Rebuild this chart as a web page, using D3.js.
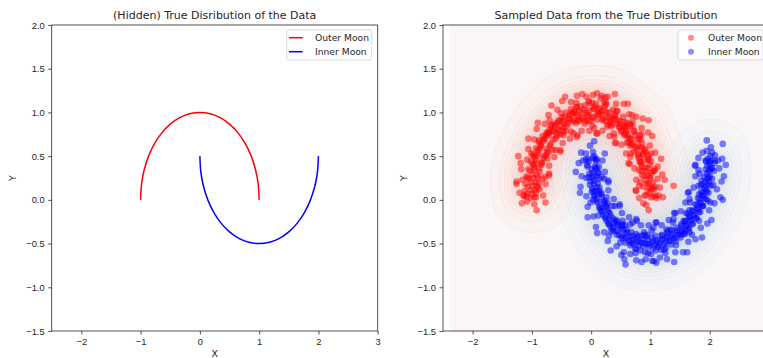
<!DOCTYPE html>
<html>
<head>
<meta charset="utf-8">
<script src="https://cdn.jsdelivr.net/npm/d3@7"></script>
<style>
  body { margin: 0; background: #fff; }
  svg { display: block; font-family: "DejaVu Sans", sans-serif; }
  .tick text { font-size: 9.4px; fill: #262626; }
  .tick line { stroke: #262626; stroke-width: 0.8; }
</style>
</head>
<body>
<svg id="moons" width="763" height="358"></svg>
<script>
// Noise-free moon outlines, one point every 10 degrees.
const outerArc = [[1.000,0.000],[0.985,0.174],[0.940,0.342],[0.866,0.500],[0.766,0.643],[0.643,0.766],[0.500,0.866],[0.342,0.940],[0.174,0.985],[0.000,1.000],[-0.174,0.985],[-0.342,0.940],[-0.500,0.866],[-0.643,0.766],[-0.766,0.643],[-0.866,0.500],[-0.940,0.342],[-0.985,0.174],[-1.000,0.000]];
const innerArc = [[0.000,0.500],[0.015,0.326],[0.060,0.158],[0.134,0.000],[0.234,-0.143],[0.357,-0.266],[0.500,-0.366],[0.658,-0.440],[0.826,-0.485],[1.000,-0.500],[1.174,-0.485],[1.342,-0.440],[1.500,-0.366],[1.643,-0.266],[1.766,-0.143],[1.866,0.000],[1.940,0.158],[1.985,0.326],[2.000,0.500]];

// Sampled points, outer moon (dense core, then the looser fringe).
const outerPoints = [
  [1.05,0.04],[0.93,-0.06],[1.02,0.12],[0.97,-0.12],[1.10,0.02],[0.99,0.08],
  [0.95,0.10],[1.08,0.15],[1.01,0.03],[0.90,0.05],[1.04,0.20],[0.98,0.14],
  [0.92,0.22],[1.06,0.12],[0.99,0.27],[0.88,0.15],[1.12,0.24],[0.97,0.18],
  [1.02,0.31],[0.89,0.27],[0.95,0.19],[1.08,0.35],[0.93,0.33],[1.00,0.25],
  [0.86,0.38],[0.99,0.40],[0.95,0.28],[1.05,0.33],[0.90,0.45],[0.96,0.36],
  [0.97,0.47],[0.84,0.41],[0.88,0.52],[1.01,0.44],[0.91,0.37],[0.80,0.48],
  [0.92,0.55],[0.79,0.51],[0.85,0.60],[0.96,0.46],[0.83,0.44],[0.88,0.52],
  [0.75,0.60],[0.86,0.64],[0.80,0.52],[0.91,0.58],[0.72,0.55],[0.84,0.69],
  [0.81,0.70],[0.70,0.64],[0.77,0.58],[0.85,0.75],[0.67,0.69],[0.79,0.62],
  [0.72,0.79],[0.63,0.71],[0.78,0.69],[0.69,0.63],[0.61,0.80],[0.74,0.74],
  [0.58,0.77],[0.70,0.84],[0.66,0.70],[0.55,0.83],[0.73,0.78],[0.62,0.74],
  [0.60,0.88],[0.51,0.80],[0.57,0.75],[0.66,0.85],[0.49,0.90],[0.58,0.82],
  [0.45,0.87],[0.54,0.95],[0.50,0.78],[0.41,0.92],[0.57,0.85],[0.47,0.83],
  [0.40,0.97],[0.46,0.90],[0.36,0.86],[0.44,1.01],[0.38,0.93],[0.48,0.84],
  [0.30,0.95],[0.37,1.03],[0.33,0.88],[0.26,1.00],[0.40,0.96],[0.34,0.91],
  [0.22,1.02],[0.29,0.94],[0.25,1.09],[0.18,0.97],[0.31,1.00],[0.24,0.90],
  [0.15,1.05],[0.20,0.93],[0.13,0.99],[0.22,1.12],[0.17,1.01],[0.10,0.92],
  [0.05,1.04],[0.12,0.97],[0.08,1.10],[0.02,0.95],[0.10,1.00],[0.06,1.07],
  [-0.03,1.02],[0.04,0.94],[0.01,1.11],[-0.06,0.97],[0.03,1.05],[-0.01,0.90],
  [-0.12,1.03],[-0.05,0.96],[-0.10,1.08],[-0.15,0.94],[-0.08,1.00],[-0.04,1.13],
  [-0.20,1.02],[-0.13,0.93],[-0.18,1.07],[-0.24,0.97],[-0.16,1.00],[-0.21,0.90],
  [-0.28,1.01],[-0.22,0.95],[-0.31,0.91],[-0.25,1.06],[-0.33,0.98],[-0.26,0.88],
  [-0.37,0.97],[-0.30,0.90],[-0.40,0.88],[-0.34,1.04],[-0.29,0.99],[-0.38,0.93],
  [-0.45,0.95],[-0.40,0.85],[-0.48,0.90],[-0.42,1.00],[-0.37,0.92],[-0.50,0.84],
  [-0.53,0.90],[-0.46,0.82],[-0.55,0.80],[-0.49,0.94],[-0.58,0.88],[-0.45,0.87],
  [-0.61,0.86],[-0.52,0.75],[-0.64,0.78],[-0.55,0.91],[-0.68,0.84],[-0.57,0.80],
  [-0.66,0.79],[-0.60,0.70],[-0.72,0.74],[-0.62,0.85],[-0.75,0.77],[-0.58,0.76],
  [-0.73,0.76],[-0.68,0.64],[-0.79,0.70],[-0.70,0.80],[-0.82,0.73],[-0.64,0.69],
  [-0.79,0.69],[-0.74,0.58],[-0.85,0.63],[-0.76,0.74],[-0.88,0.66],[-0.70,0.62],
  [-0.84,0.61],[-0.79,0.50],[-0.90,0.57],[-0.81,0.67],[-0.93,0.59],[-0.75,0.55],
  [-0.89,0.54],[-0.84,0.43],[-0.95,0.49],[-0.86,0.59],[-0.98,0.52],[-0.80,0.48],
  [-0.93,0.46],[-0.88,0.36],[-0.99,0.41],[-0.90,0.51],[-1.02,0.44],[-0.84,0.40],
  [-0.96,0.37],[-0.91,0.28],[-1.03,0.33],[-0.94,0.42],[-1.06,0.35],[-0.87,0.32],
  [-0.99,0.29],[-0.93,0.20],[-1.05,0.24],[-0.96,0.34],[-1.09,0.27],[-0.90,0.25],
  [-1.01,0.20],[-0.95,0.11],[-1.07,0.15],[-0.98,0.25],[-1.11,0.18],[-0.92,0.16],
  [-1.02,0.11],[-0.96,0.03],[-1.08,0.07],[-0.99,0.16],[-1.12,0.10],[-0.93,0.08],
  [-1.02,0.02],[-0.96,-0.05],[-1.08,-0.02],[-1.00,0.07],[-1.13,0.04],[-0.92,-0.12],
  [1.21,0.03],[0.88,-0.04],[1.09,0.05],[0.81,0.02],[1.14,0.05],[0.76,0.10],[1.16,0.14],[0.93,0.05],
  [1.24,0.23],[0.83,0.20],[1.04,0.14],[0.75,0.11],[1.06,0.33],[0.81,0.16],[1.20,0.29],[0.86,0.28],
  [1.12,0.38],[0.85,0.33],[1.18,0.47],[0.76,0.23],[1.08,0.54],[0.81,0.34],[0.97,0.51],[0.73,0.36],
  [1.01,0.53],[0.65,0.41],[0.99,0.62],[0.82,0.44],[1.03,0.73],[0.67,0.53],[0.88,0.57],[0.63,0.42],
  [0.82,0.74],[0.66,0.49],[0.96,0.77],[0.66,0.62],[0.85,0.82],[0.63,0.66],[0.87,0.93],[0.59,0.53],
  [0.76,0.95],[0.60,0.65],[0.66,0.87],[0.51,0.63],[0.70,0.90],[0.42,0.65],[0.64,0.98],[0.56,0.74],
  [0.62,1.10],[0.38,0.76],[0.56,0.89],[0.40,0.65],[0.43,1.02],[0.39,0.72],[0.55,1.10],[0.34,0.84],
  [0.42,1.10],[0.29,0.86],[0.40,1.21],[0.31,0.73],[0.28,1.18],[0.27,0.84],[0.23,1.07],[0.19,0.79],
  [0.25,1.11],[0.10,0.76],[0.16,1.16],[0.19,0.91],[0.10,1.22],[0.02,0.85],[0.13,1.04],[0.09,0.76],
  [-0.04,1.11],[0.05,0.82],[0.03,1.20],[-0.05,0.90],[-0.08,1.18],[-0.10,0.90],[-0.15,1.21],[-0.03,0.79],
  [-0.24,1.19],[-0.11,0.87],[-0.24,1.06],[-0.16,0.79],[-0.25,1.11],[-0.23,0.74],[-0.34,1.12],[-0.21,0.91],
  [-0.44,1.18],[-0.34,0.78],[-0.32,1.00],[-0.24,0.72],[-0.51,0.99],[-0.30,0.76],[-0.49,1.13],[-0.43,0.79],
  [-0.57,1.03],[-0.47,0.78],[-0.67,1.08],[-0.36,0.70],[-0.72,0.97],[-0.47,0.74],[-0.67,0.86],[-0.48,0.65],
  [-0.70,0.91],[-0.52,0.57],[-0.78,0.87],[-0.58,0.73],[-0.90,0.88],[-0.64,0.57],[-0.71,0.77],[-0.52,0.55],
  [-0.88,0.68],[-0.60,0.57],[-0.92,0.81],[-0.72,0.54],[-0.96,0.69],[-0.76,0.51],[-1.06,0.70],[-0.62,0.49],
  [-1.06,0.58],[-0.74,0.47],[-0.97,0.50],[-0.71,0.39],[-1.01,0.53],[-0.71,0.30],[-1.08,0.46],[-0.83,0.42],
  [-1.19,0.42],[-0.82,0.24],[-0.97,0.40],[-0.71,0.28],[-1.08,0.25],[-0.78,0.26],[-1.18,0.35],[-0.88,0.19],
  [-1.16,0.23],[-0.90,0.14],[-1.26,0.18],[-0.77,0.18],[-1.21,0.08],[-0.87,0.12],[-1.09,0.04],[-0.81,0.05],
  [-1.14,0.05],[-0.77,-0.03],[-1.17,-0.04],[-0.93,0.03],
  [-1.23,0.50],[1.39,0.16],[0.97,0.91],[0.18,1.19],[0.24,1.17],[-1.26,0.21],[0.69,0.97]
];

// Sampled points, inner moon (dense core, then the looser fringe).
const innerPoints = [
  [0.03,0.55],[-0.05,0.47],[0.08,0.44],[-0.02,0.62],[0.05,0.50],[-0.09,0.53],
  [0.06,0.38],[-0.04,0.44],[0.01,0.35],[0.10,0.46],[-0.07,0.40],[0.03,0.48],
  [-0.03,0.30],[0.07,0.36],[0.02,0.25],[0.12,0.31],[-0.06,0.38],[0.04,0.28],
  [0.09,0.27],[-0.01,0.21],[0.05,0.18],[0.13,0.24],[-0.04,0.26],[0.02,0.31],
  [0.02,0.13],[0.11,0.19],[0.07,0.10],[-0.02,0.17],[0.14,0.14],[0.05,0.22],
  [0.13,0.10],[0.05,0.04],[0.10,0.14],[0.17,0.06],[0.01,0.09],[0.08,0.01],
  [0.10,-0.03],[0.18,0.03],[0.14,-0.08],[0.06,0.05],[0.21,-0.02],[0.12,0.07],
  [0.22,-0.04],[0.14,-0.10],[0.19,-0.13],[0.26,-0.07],[0.11,-0.02],[0.17,-0.09],
  [0.20,-0.17],[0.28,-0.11],[0.24,-0.21],[0.31,-0.15],[0.17,-0.13],[0.25,-0.08],
  [0.33,-0.18],[0.26,-0.24],[0.30,-0.28],[0.37,-0.21],[0.23,-0.19],[0.29,-0.14],
  [0.32,-0.30],[0.40,-0.24],[0.36,-0.34],[0.44,-0.28],[0.30,-0.22],[0.38,-0.27],
  [0.46,-0.29],[0.39,-0.36],[0.43,-0.40],[0.50,-0.33],[0.37,-0.31],[0.45,-0.25],
  [0.47,-0.40],[0.54,-0.34],[0.51,-0.44],[0.58,-0.38],[0.44,-0.35],[0.52,-0.30],
  [0.61,-0.37],[0.55,-0.44],[0.58,-0.49],[0.65,-0.42],[0.52,-0.41],[0.60,-0.34],
  [0.63,-0.47],[0.70,-0.41],[0.66,-0.52],[0.73,-0.45],[0.60,-0.43],[0.68,-0.37],
  [0.77,-0.43],[0.71,-0.50],[0.74,-0.56],[0.81,-0.48],[0.68,-0.46],[0.76,-0.39],
  [0.80,-0.52],[0.86,-0.45],[0.83,-0.58],[0.90,-0.50],[0.77,-0.48],[0.85,-0.41],
  [0.95,-0.46],[0.88,-0.53],[0.91,-0.60],[0.98,-0.51],[0.85,-0.49],[0.93,-0.42],
  [0.97,-0.54],[1.04,-0.47],[1.01,-0.62],[1.07,-0.52],[0.94,-0.50],[1.02,-0.43],
  [1.11,-0.46],[1.05,-0.55],[1.09,-0.58],[1.15,-0.50],[1.03,-0.49],[1.08,-0.41],
  [1.14,-0.52],[1.21,-0.45],[1.18,-0.57],[1.25,-0.49],[1.11,-0.47],[1.19,-0.40],
  [1.29,-0.43],[1.23,-0.51],[1.26,-0.55],[1.33,-0.47],[1.20,-0.45],[1.28,-0.38],
  [1.31,-0.47],[1.38,-0.41],[1.35,-0.51],[1.41,-0.44],[1.28,-0.42],[1.36,-0.35],
  [1.46,-0.37],[1.39,-0.44],[1.43,-0.47],[1.50,-0.40],[1.37,-0.39],[1.44,-0.32],
  [1.47,-0.40],[1.54,-0.33],[1.51,-0.43],[1.58,-0.36],[1.45,-0.35],[1.52,-0.28],
  [1.61,-0.29],[1.54,-0.36],[1.58,-0.39],[1.65,-0.32],[1.52,-0.30],[1.59,-0.24],
  [1.61,-0.30],[1.68,-0.23],[1.64,-0.34],[1.71,-0.27],[1.58,-0.25],[1.66,-0.19],
  [1.74,-0.18],[1.67,-0.24],[1.71,-0.28],[1.78,-0.21],[1.65,-0.19],[1.72,-0.13],
  [1.73,-0.17],[1.80,-0.11],[1.77,-0.21],[1.84,-0.14],[1.70,-0.12],[1.78,-0.06],
  [1.85,-0.04],[1.78,-0.10],[1.82,-0.14],[1.89,-0.07],[1.76,-0.05],[1.83,0.01],
  [1.83,-0.03],[1.90,0.04],[1.87,-0.07],[1.94,0.01],[1.80,0.02],[1.88,0.08],
  [1.94,0.11],[1.87,0.05],[1.91,0.01],[1.98,0.08],[1.85,0.09],[1.92,0.15],
  [1.91,0.13],[1.98,0.20],[1.95,0.09],[2.02,0.16],[1.88,0.18],[1.96,0.24],
  [2.00,0.27],[1.93,0.21],[1.97,0.17],[2.04,0.24],[1.91,0.26],[1.98,0.32],
  [1.95,0.30],[2.03,0.36],[1.99,0.25],[2.07,0.33],[1.93,0.35],[2.00,0.41],
  [2.03,0.45],[1.96,0.39],[2.00,0.35],[2.08,0.42],[1.94,0.44],[2.01,0.50],
  [1.97,0.47],[2.04,0.54],[2.00,0.43],[2.09,0.51],[1.95,0.56],[2.02,0.60],
  [-0.14,0.45],[0.23,0.53],[-0.17,0.54],[0.07,0.47],[-0.21,0.42],[0.13,0.38],[-0.09,0.46],[0.19,0.45],
  [-0.16,0.27],[0.10,0.36],[-0.26,0.32],[0.23,0.32],[-0.08,0.25],[0.22,0.24],[-0.18,0.15],[0.12,0.31],
  [-0.19,0.08],[0.18,0.26],[0.03,0.10],[0.29,0.22],[-0.01,-0.03],[0.29,0.20],[-0.08,0.04],[0.17,0.08],
  [-0.06,-0.08],[0.26,0.03],[0.03,0.00],[0.29,0.11],[0.04,-0.19],[0.24,-0.01],[-0.06,-0.20],[0.38,0.01],
  [0.12,-0.18],[0.40,-0.07],[0.08,-0.31],[0.28,-0.04],[0.10,-0.38],[0.36,-0.07],[0.29,-0.27],[0.48,-0.05],
  [0.30,-0.41],[0.48,-0.07],[0.22,-0.37],[0.42,-0.23],[0.28,-0.47],[0.53,-0.24],[0.33,-0.36],[0.52,-0.15],
  [0.43,-0.53],[0.53,-0.28],[0.33,-0.58],[0.64,-0.20],[0.49,-0.49],[0.70,-0.26],[0.51,-0.63],[0.57,-0.29],
  [0.56,-0.68],[0.66,-0.28],[0.68,-0.50],[0.76,-0.22],[0.75,-0.61],[0.77,-0.24],[0.66,-0.62],[0.79,-0.41],
  [0.76,-0.69],[0.89,-0.37],[0.76,-0.56],[0.84,-0.29],[0.92,-0.68],[0.90,-0.40],[0.85,-0.71],[0.97,-0.29],
  [0.96,-0.61],[1.05,-0.32],[1.03,-0.70],[0.95,-0.40],[1.10,-0.72],[1.02,-0.35],[1.13,-0.54],[1.09,-0.26],
  [1.25,-0.61],[1.10,-0.26],[1.16,-0.66],[1.19,-0.41],[1.28,-0.68],[1.27,-0.34],[1.23,-0.57],[1.19,-0.29],
  [1.42,-0.60],[1.29,-0.36],[1.40,-0.71],[1.31,-0.23],[1.43,-0.52],[1.39,-0.22],[1.55,-0.60],[1.34,-0.34],
  [1.62,-0.60],[1.38,-0.26],[1.56,-0.39],[1.40,-0.15],[1.70,-0.40],[1.42,-0.15],[1.64,-0.48],[1.56,-0.24],
  [1.76,-0.45],[1.60,-0.15],[1.66,-0.37],[1.51,-0.13],[1.85,-0.32],[1.63,-0.16],[1.87,-0.43],[1.59,-0.03],
  [1.82,-0.24],[1.66,0.01],[1.96,-0.27],[1.66,-0.12],[2.03,-0.23],[1.67,-0.03],[1.88,-0.07],[1.63,0.08],
  [2.01,-0.03],[1.65,0.09],[1.99,-0.12],[1.82,0.06],[2.08,-0.04],[1.81,0.16],[1.97,-0.01],[1.73,0.14],
  [2.12,0.12],[1.85,0.17],[2.18,0.03],[1.76,0.27],[2.06,0.17],[1.81,0.34],[2.20,0.21],[1.86,0.22],
  [2.24,0.27],[1.83,0.30],[2.04,0.36],[1.75,0.39],[2.14,0.45],[1.76,0.40],[2.16,0.36],[1.93,0.45],
  [2.21,0.47],[1.88,0.54],[2.09,0.45],[1.81,0.48],
  [2.22,0.64],[1.95,0.68],[0.58,-0.74],[1.06,-0.70],[2.22,0.00],[0.05,0.67],[2.27,0.40],[0.55,-0.60]
];

const seriesNames = ["Outer Moon", "Inner Moon"];
const seriesColors = ["red", "blue"];
const xTicks = [-2, -1, 0, 1, 2, 3];
const yTicks = [-1.5, -1.0, -0.5, 0.0, 0.5, 1.0, 1.5, 2.0];
const xDomain = [-2.5, 3];
const yDomain = [-1.5, 2];

var moons = {};
moons.pageWidth = 763;

moons.fmt = function (v, digits) {
  return v.toFixed(digits).replace("-", "\u2212");
};

// One panel: scales, frame, ticks, labels.
moons.panel = function (svg, left, title) {
  const top = 25, width = 326, height = 306;
  const x = d3.scaleLinear().domain(xDomain).range([0, width]);
  const y = d3.scaleLinear().domain(yDomain).range([height, 0]);
  const g = svg.append("g").attr("transform", "translate(" + left + "," + top + ")");
  const id = "clip" + Math.round(left);
  g.append("clipPath").attr("id", id)
    .append("rect").attr("width", width).attr("height", height);
  const plot = g.append("g").attr("clip-path", "url(#" + id + ")");
  const frame = g.append("g");

  // ticks whose label would fall off the page are skipped
  const shown = xTicks.filter(t => left + x(t) + 5 < moons.pageWidth);
  frame.append("g")
    .attr("transform", "translate(0," + height + ")")
    .call(d3.axisBottom(x).tickValues(shown).tickSize(3.5).tickPadding(3.5)
      .tickFormat(d => moons.fmt(d, 0)));
  frame.append("g")
    .call(d3.axisLeft(y).tickValues(yTicks).tickSize(3.5).tickPadding(3.5)
      .tickFormat(d => moons.fmt(d, 1)));
  frame.selectAll(".domain").remove();
  frame.append("rect")
    .attr("width", width).attr("height", height)
    .attr("fill", "none").attr("stroke", "#262626").attr("stroke-width", 0.8);

  g.append("text").attr("x", width / 2).attr("y", -6)
    .attr("text-anchor", "middle").attr("font-size", 11).attr("fill", "#262626")
    .text(title);
  g.append("text").attr("x", width / 2).attr("y", height + 25.5)
    .attr("text-anchor", "middle").attr("font-size", 9.5).attr("fill", "#262626")
    .text("X");
  g.append("text")
    .attr("transform", "translate(" + (-36) + "," + (height / 2) + ") rotate(-90)")
    .attr("text-anchor", "middle").attr("font-size", 9.5).attr("fill", "#262626")
    .text("Y");

  return { g: g, plot: plot, x: x, y: y, width: width, height: height };
};

moons.legend = function (p, kind) {
  const lg = p.g.append("g").attr("transform", "translate(" + (p.width - 91) + ",5)");
  lg.append("rect").attr("width", 85).attr("height", 30).attr("rx", 2.5)
    .attr("fill", "#fff").attr("fill-opacity", 0.8)
    .attr("stroke", "#d0d0d0").attr("stroke-width", 0.8);
  seriesNames.forEach((name, i) => {
    const cy = 7.7 + i * 14;
    if (kind === "line") {
      lg.append("line").attr("x1", 2.3).attr("x2", 16).attr("y1", cy).attr("y2", cy)
        .attr("stroke", seriesColors[i]).attr("stroke-width", 1.5);
    } else {
      lg.append("circle").attr("cx", 13).attr("cy", cy).attr("r", 3)
        .attr("fill", seriesColors[i]).attr("fill-opacity", 0.45);
    }
    lg.append("text").attr("x", kind === "line" ? 28.3 : 30).attr("y", cy + 3.3)
      .attr("font-size", 9.2).attr("fill", "#262626").text(name);
  });
};

moons.draw = function () {
  const svg = d3.select("#moons");

  // Left panel: the true moon curves.
  const a = moons.panel(svg, 51.7, "(Hidden) True Disribution of the Data");
  const line = d3.line().x(d => a.x(d[0])).y(d => a.y(d[1])).curve(d3.curveNatural);
  [outerArc, innerArc].forEach((arc, i) => {
    a.plot.append("path").attr("d", line(arc))
      .attr("fill", "none").attr("stroke", seriesColors[i]).attr("stroke-width", 1.5);
  });
  moons.legend(a, "line");

  // Right panel: density contours under the sampled points.
  const b = moons.panel(svg, 443, "Sampled Data from the True Distribution");
  const allX = outerPoints.concat(innerPoints).map(d => d[0]);
  const gridLeft = b.x(d3.min(allX) - 1.13);
  b.plot.append("rect")
    .attr("x", gridLeft).attr("width", b.width - gridLeft).attr("height", b.height)
    .attr("fill", "#faf6f7");

  const ramps = [d3.interpolateReds, d3.interpolateBlues];
  [outerPoints, innerPoints].forEach((pts, i) => {
    const kde = d3.contourDensity()
      .x(d => b.x(d[0])).y(d => b.y(d[1]))
      .size([b.width, b.height])
      .cellSize(2)
      .bandwidth(13)
      .contours(pts);
    const levels = d3.range(0, 14).map(k => kde.max * (0.015 + 0.92 * k / 14));
    const layer = b.plot.append("g").attr("opacity", 0.22);
    layer.selectAll("path").data(levels).join("path")
      .attr("d", t => d3.geoPath()(kde(t)))
      .attr("fill", (t, k) => ramps[i](0.08 + 0.7 * k / levels.length))
      .attr("stroke", (t, k) => ramps[i](0.4 + 0.55 * k / levels.length))
      .attr("stroke-width", 0.6);
  });

  [outerPoints, innerPoints].forEach((pts, i) => {
    b.plot.append("g").selectAll("circle").data(pts).join("circle")
      .attr("cx", d => b.x(d[0])).attr("cy", d => b.y(d[1]))
      .attr("r", 3.3)
      .attr("fill", seriesColors[i]).attr("fill-opacity", 0.5);
  });
  moons.legend(b, "dot");
};

moons.draw();
</script>
</body>
</html>
